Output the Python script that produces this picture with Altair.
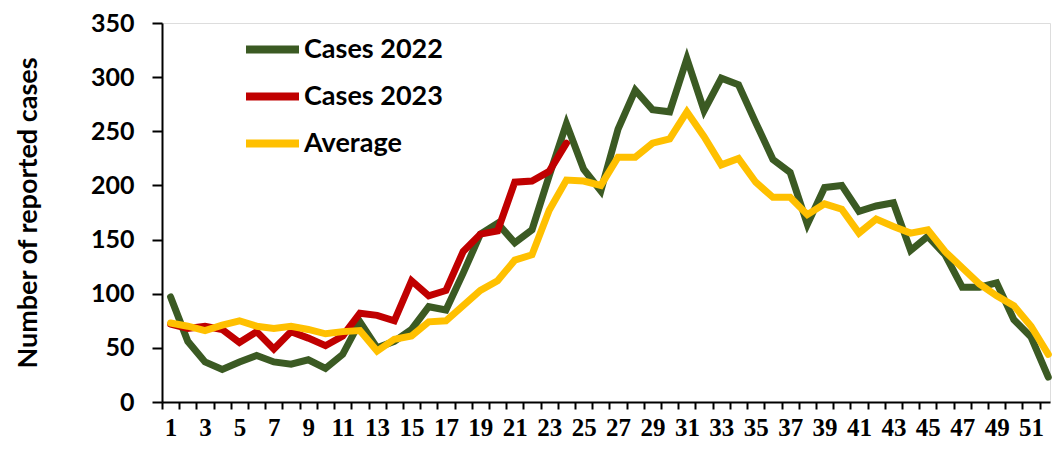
import altair as alt
import pandas as pd

weeks = list(range(1, 53))
cases_2022 = [97, 56, 37, 30, 37, 43, 37, 35, 39, 31,
              44, 74, 50, 56, 67, 88, 85, 119, 155, 165,
              147, 159, 209, 257, 215, 195, 252, 288, 270, 268,
              317, 269, 299, 293, 258, 224, 212, 164, 198, 200,
              176, 181, 184, 140, 153, 136, 106, 106, 110, 76,
              60, 23]
cases_2023 = [72, 68, 70, 67, 55, 65, 49, 65, 59, 52,
              61, 82, 80, 75, 112, 98, 103, 139, 155, 158,
              203, 204, 213, 239]
average = [73, 70, 66, 71, 75, 70, 68, 70, 67, 63,
           65, 66, 47, 58, 61, 74, 75, 89, 103, 112,
           131, 136, 177, 205, 204, 200, 226, 226, 239, 243,
           268, 245, 219, 225, 203, 189, 189, 173, 183, 178,
           156, 169, 162, 156, 159, 139, 124, 109, 98, 89,
           70, 44]

series_names = ["Cases 2022", "Cases 2023", "Average"]
series_colors = ["#3B5A23", "#C00000", "#FFC000"]

rows = []
for w, v in zip(weeks, cases_2022):
    rows.append({"week": w, "cases": v, "series": "Cases 2022"})
for w, v in zip(weeks, cases_2023):
    rows.append({"week": w, "cases": v, "series": "Cases 2023"})
for w, v in zip(weeks, average):
    rows.append({"week": w, "cases": v, "series": "Average"})
df = pd.DataFrame(rows)

W = 888
H = 379
dom_lo, dom_hi = 0.5, 52.1
half_band = W / (dom_hi - dom_lo) / 2

x_enc = alt.X(
    "week:Q",
    scale=alt.Scale(domain=[dom_lo, dom_hi], nice=False, zero=False),
    axis=alt.Axis(
        values=weeks,
        labelExpr="datum.value % 2 == 1 ? format(datum.value, 'd') : ''",
        tickOffset=-half_band,
        labelOffset=half_band,
        title=None,
        grid=False,
        domainColor="black",
        domainWidth=2,
        tickColor="black",
        tickWidth=2,
        tickSize=7,
        labelFont="Liberation Sans Narrow",
        labelFontWeight="bold",
        labelFontSize=25,
        labelColor="black",
        labelPadding=6,
        labelFlush=False,
        labelOverlap=False,
    ),
)

y_enc = alt.Y(
    "cases:Q",
    scale=alt.Scale(domain=[0, 350], nice=False),
    axis=alt.Axis(
        values=[0, 50, 100, 150, 200, 250, 300, 350],
        title="Number of reported cases",
        titleFont="Lato",
        titleFontWeight="bold",
        titleFontSize=27,
        titleColor="black",
        titlePadding=48,
        grid=False,
        domainColor="black",
        domainWidth=2,
        tickColor="black",
        tickWidth=2,
        tickSize=10,
        labelFont="Lato",
        labelFontWeight="bold",
        labelFontSize=25,
        labelColor="black",
        labelPadding=18,
    ),
)

color_enc = alt.Color(
    "series:N",
    scale=alt.Scale(domain=series_names, range=series_colors),
    legend=alt.Legend(
        title=None,
        orient="none",
        legendX=80,
        legendY=-4,
        symbolType="stroke",
        symbolSize=2809,
        symbolStrokeWidth=8,
        labelFont="Lato",
        labelFontWeight="bold",
        labelFontSize=27,
        labelColor="black",
        labelOffset=1,
        rowPadding=-10,
    ),
)

layers = []
for name in series_names:
    layers.append(
        alt.Chart(df)
        .transform_filter(alt.datum.series == name)
        .mark_line(strokeWidth=7, strokeCap="round")
        .encode(x=x_enc, y=y_enc, color=color_enc)
    )

chart = (
    alt.layer(*layers)
    .properties(
        width=W,
        height=H,
        autosize=alt.AutoSizeParams(type="none"),
        padding={"left": 154, "top": 15, "right": 3, "bottom": 39},
    )
    .configure_view(stroke=None)
    .configure(background="white")
)

chart.save("out.html", embed_options={"renderer": "svg", "actions": False})
